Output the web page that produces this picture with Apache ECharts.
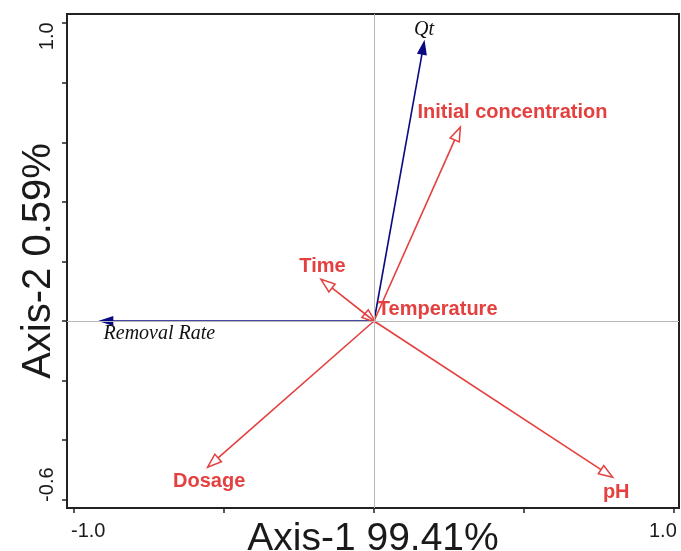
<!DOCTYPE html>
<html>
<head>
<meta charset="utf-8">
<script src="https://cdn.jsdelivr.net/npm/echarts@6/dist/echarts.min.js"></script>
<style>
html, body { margin: 0; padding: 0; background: #fff; }
#main { width: 681px; height: 551px; }
</style>
</head>
<body>
<div id="main"></div>
<script>
// explanatory variables (red arrows, open heads)
const envNames = ['Initial concentration', 'Time', 'Temperature', 'Dosage', 'pH'];
const envX = [0.288, -0.177, 0.006, -0.555, 0.796];
const envY = [0.651, 0.140, -0.005, -0.491, -0.525];

// response variables (blue arrows, filled heads)
const respNames = ['Qt', 'Removal Rate'];
const respX = [0.167, -0.912];
const respY = [0.937, 0.0];

// axis ticks / labels
const xTicks = [-1.0, -0.5, 0, 0.5, 1.0];
const xTickLabels = [-1.0, 1.0];
const yTicks = [-0.6, -0.4, -0.2, 0, 0.2, 0.4, 0.6, 0.8, 1.0];
const yTickLabels = [-0.6, 1.0];

const RED = '#E4403F';
const BLUE = '#0A0A82';
const INK = '#1a1a1a';

// label placement relative to arrow tip, px: [dx, dy, align]
const labelPos = {
    'Initial concentration': [-43, -15, 'left'],
    'Time': [1.5, -13, 'center'],
    'Temperature': [2, -13, 'left'],
    'Dosage': [1.5, 14, 'center'],
    'pH': [3.5, 15, 'center'],
    'Qt': [0, -12, 'center'],
    'Removal Rate': [3, 13, 'left']
};

const arrowRenderer = function (names, color, filled, font, textColor) {
    return function (params, api) {
        let o = api.coord([0, 0]);
        let p = api.coord([api.value(0), api.value(1)]);
        let dx = p[0] - o[0], dy = p[1] - o[1];
        let len = Math.sqrt(dx * dx + dy * dy) || 1;
        let ux = dx / len, uy = dy / len;
        let hl = filled ? 12 : 14, hw = filled ? 4 : 5;
        let bx = p[0] - ux * hl, by = p[1] - uy * hl;
        let head = [[p[0], p[1]], [bx - uy * hw, by + ux * hw], [bx + uy * hw, by - ux * hw]];
        let name = names[params.dataIndex];
        let lp = labelPos[name];
        let children = [];
        if (len > hl) {
            children.push({
                type: 'line',
                shape: {x1: o[0], y1: o[1], x2: filled ? bx + ux * 2 : bx, y2: filled ? by + uy * 2 : by},
                style: {stroke: color, lineWidth: 1.6}
            });
        }
        children.push({
            type: 'polygon',
            shape: {points: head},
            style: {fill: filled ? color : 'none', stroke: color, lineWidth: 1.5, lineJoin: 'miter'}
        });
        children.push({
            type: 'text',
            x: p[0] + lp[0],
            y: p[1] + lp[1],
            style: {text: name, align: lp[2], verticalAlign: 'middle', fill: textColor, font: font}
        });
        return {type: 'group', children: children};
    };
};

let myChart = echarts.init(document.getElementById('main'));

let option = {
    animation: false,
    backgroundColor: '#fff',
    grid: {
        left: 67, right: 2, top: 14, bottom: 43,
        containLabel: false,
        outerBoundsMode: 'none',
        show: true, borderColor: '#222', borderWidth: 2, backgroundColor: 'transparent'
    },
    xAxis: {
        type: 'value',
        min: -1.024, max: 1.017,
        axisLine: {show: false, onZero: false},
        splitLine: {show: false},
        axisTick: {show: true, customValues: xTicks, length: 5, lineStyle: {color: '#222', width: 1.5}},
        axisLabel: {
            customValues: xTickLabels,
            margin: 13,
            formatter: (v) => v < 0 ? '{a|' + v.toFixed(1) + '}' : '{b|' + v.toFixed(1) + '}',
            rich: {
                a: {fontSize: 20, color: INK, fontFamily: '"Liberation Sans", Arial', padding: [0, 0, 0, 28]},
                b: {fontSize: 20, color: INK, fontFamily: '"Liberation Sans", Arial', padding: [0, 22, 0, 0]}
            }
        },
        name: 'Axis-1 99.41%',
        nameLocation: 'middle',
        nameGap: 12,
        nameMoveOverlap: false,
        nameTextStyle: {fontSize: 39, color: INK, fontFamily: '"Liberation Sans", Arial', verticalAlign: 'top'}
    },
    yAxis: {
        type: 'value',
        min: -0.628, max: 1.031,
        axisLine: {show: false, onZero: false},
        splitLine: {show: false},
        axisTick: {show: true, customValues: yTicks, length: 5, lineStyle: {color: '#222', width: 1.5}},
        axisLabel: {
            customValues: yTickLabels,
            rotate: 90,
            margin: 10,
            formatter: (v) => v < 0 ? '{a|' + v.toFixed(1) + '}' : '{b|' + v.toFixed(1) + '}',
            rich: {
                a: {fontSize: 20, color: INK, fontFamily: '"Liberation Sans", Arial', padding: [0, 0, 0, 30]},
                b: {fontSize: 20, color: INK, fontFamily: '"Liberation Sans", Arial', padding: [0, 26, 0, 0]}
            }
        },
        name: 'Axis-2 0.59%',
        nameLocation: 'middle',
        nameGap: 8,
        nameMoveOverlap: false,
        nameTextStyle: {fontSize: 40, color: INK, fontFamily: '"Liberation Sans", Arial'}
    },
    series: [
        {
            type: 'line',
            data: [],
            z: 1,
            markLine: {
                silent: true,
                symbol: 'none',
                label: {show: false},
                lineStyle: {color: '#b8b8b8', width: 1, type: 'solid'},
                data: [{xAxis: 0}, {yAxis: 0}]
            }
        },
        {
            type: 'custom',
            z: 3,
            clip: false,
            renderItem: arrowRenderer(respNames, BLUE, true, 'italic 20px "Liberation Serif", "Times New Roman", serif', '#111'),
            encode: {x: 0, y: 1},
            data: respX.map((x, i) => [x, respY[i]])
        },
        {
            type: 'custom',
            z: 4,
            clip: false,
            renderItem: arrowRenderer(envNames, RED, false, 'bold 20px "Liberation Sans", Arial, sans-serif', RED),
            encode: {x: 0, y: 1},
            data: envX.map((x, i) => [x, envY[i]])
        }
    ]
};
myChart.setOption(option);
</script>
</body>
</html>
